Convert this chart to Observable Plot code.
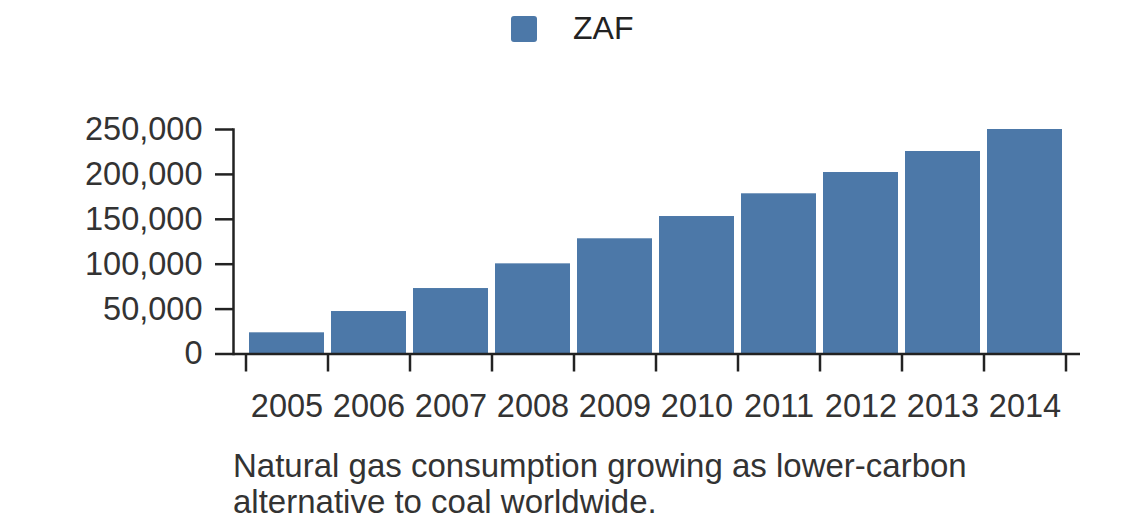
<!DOCTYPE html>
<html>
<head>
<meta charset="utf-8">
<script src="https://cdn.jsdelivr.net/npm/d3@7"></script>
<script src="https://cdn.jsdelivr.net/npm/@observablehq/plot@0.6"></script>
<style>
  html, body { margin: 0; padding: 0; background: #fff; }
  body { width: 1140px; height: 528px; overflow: hidden; font-family: Arial, "Liberation Sans", sans-serif; }
  #legend { position: relative; width: 1140px; height: 60px; }
  #legend .sw { position: absolute; left: 511px; top: 15.5px; width: 26px; height: 26px; border-radius: 3px; }
  #legend .lb { position: absolute; left: 573px; top: 12px; font-size: 32px; line-height: 32px; color: #222; }
  #chart svg { display: block; }
  #caption { margin: 8px 0 0 233px; width: 847px; font-size: 33px; line-height: 36px; color: #333; }
</style>
</head>
<body>
<div id="legend"><div class="sw"></div><div class="lb"></div></div>
<div id="chart"></div>
<div id="caption"></div>
<script>
const seriesName = "ZAF";
const years = [2005, 2006, 2007, 2008, 2009, 2010, 2011, 2012, 2013, 2014];
const values = [23600, 47300, 72900, 100400, 128300, 153100, 178400, 202100, 225500, 250000];
const yTicks = [0, 50000, 100000, 150000, 200000, 250000];
const captionText = "Natural gas consumption growing as lower-carbon alternative to coal worldwide.";
const barColor = "#4c78a8";
const axisColor = "#222";
const textColor = "#333";

const data = years.map((year, i) => ({year, value: values[i]}));

document.querySelector("#legend .sw").style.background = barColor;
document.querySelector("#legend .lb").textContent = seriesName;
document.getElementById("caption").textContent = captionText;

const W = 1140, H = 380;
const mL = 233, mR = 60, mT = 69, mB = 86.5;
const insL = 13, insR = 14;
const pIn = 0.08, pOut = 0.04;
const step = (W - mL - mR - insL - insR) / (years.length - pIn + 2 * pOut);
const fmtThousands = d3.format(",");
const fmtYear = d3.format("d");

const chart = Plot.plot({
  width: W,
  height: H,
  marginLeft: mL,
  marginRight: mR,
  marginTop: mT,
  marginBottom: mB,
  style: {fontFamily: 'Arial, "Liberation Sans", sans-serif', fontSize: "32px", color: textColor, background: "#fff"},
  x: {type: "band", domain: years, insetLeft: insL, insetRight: insR, paddingInner: pIn, paddingOuter: pOut},
  y: {domain: [0, 250000]},
  marks: [
    Plot.barY(data, {x: "year", y: "value", fill: barColor}),
    Plot.frame({anchor: "left", stroke: axisColor, strokeWidth: 2.5}),
    Plot.ruleY([0], {stroke: axisColor, strokeWidth: 2.5}),
    Plot.axisY({ticks: yTicks, tickFormat: fmtThousands, tickSize: 18, tickPadding: 13, stroke: axisColor, strokeWidth: 2.5, fill: textColor, fontSize: 32.5, label: null}),
    Plot.axisX({tickSize: 0, tickPadding: 40, tickFormat: fmtYear, fill: textColor, fontSize: 32.5, label: null}),
    Plot.axisX({tickSize: 18, fill: "none", stroke: axisColor, strokeWidth: 2.5, dx: -step / 2, label: null}),
    Plot.axisX({ticks: [years[years.length - 1]], tickSize: 18, fill: "none", stroke: axisColor, strokeWidth: 2.5, dx: step / 2, label: null})
  ]
});
document.getElementById("chart").appendChild(chart);
</script>
</body>
</html>
